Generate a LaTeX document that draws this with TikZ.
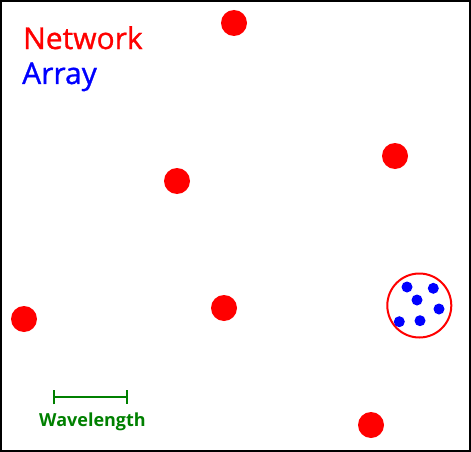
\documentclass[tikz,border=0pt]{standalone}
\usepackage{fontspec}
\setmainfont{Open Sans}
\newfontfamily\legendfont[FakeBold=1]{Open Sans}
\usetikzlibrary{arrows.meta}

\definecolor{netred}{RGB}{255,0,0}
\definecolor{arrblue}{RGB}{0,0,255}
\definecolor{wlgreen}{RGB}{0,128,0}

\tikzset{
  station/.style={circle, fill=netred, inner sep=0pt, minimum size=26pt},
  element/.style={circle, fill=arrblue, inner sep=0pt, minimum size=11pt},
  arrayring/.style={circle, draw=netred, line width=2pt, inner sep=0pt, minimum size=64pt},
  legend/.style={anchor=base west, inner sep=0pt, font=\legendfont\fontsize{30}{33}\selectfont},
}

\begin{document}
\begin{tikzpicture}[x=1pt,y=-1pt]
\useasboundingbox (0,0) rectangle (471,452);
\draw[black, line width=2pt] (1,1) rectangle (470,451);
% legend
\node[legend, text=netred] (legnet) at (23,49) {Network};
\node[legend, text=arrblue] (legarr) at (22,84) {Array};
% network stations
\node[station] (s1) at (234,23) {};
\node[station] (s2) at (395,156) {};
\node[station] (s3) at (177,181) {};
\node[station] (s4) at (24,319) {};
\node[station] (s5) at (224,308) {};
\node[station] (s6) at (371,425) {};
% array
\node[arrayring] (ring) at (419.3,305.5) {};
\node[element] (e1) at (407,287) {};
\node[element] (e2) at (433.3,288.3) {};
\node[element] (e3) at (417,300) {};
\node[element] (e4) at (439,309) {};
\node[element] (e5) at (399.3,321.7) {};
\node[element] (e6) at (420,320.7) {};
% wavelength scale
\coordinate (wlleft) at (53.3,397.3);
\coordinate (wlright) at (128,397.3);
\draw[draw=wlgreen, line width=2pt, {Bar[width=14pt,line width=2pt]}-{Bar[width=14pt,line width=2pt]}] (wlleft) -- (wlright);
\node[anchor=base, text=wlgreen, font=\fontsize{18}{21}\selectfont\bfseries, inner sep=0pt] (wllabel) at (92.5,426.7) {Wavelength};
\end{tikzpicture}
\end{document}
